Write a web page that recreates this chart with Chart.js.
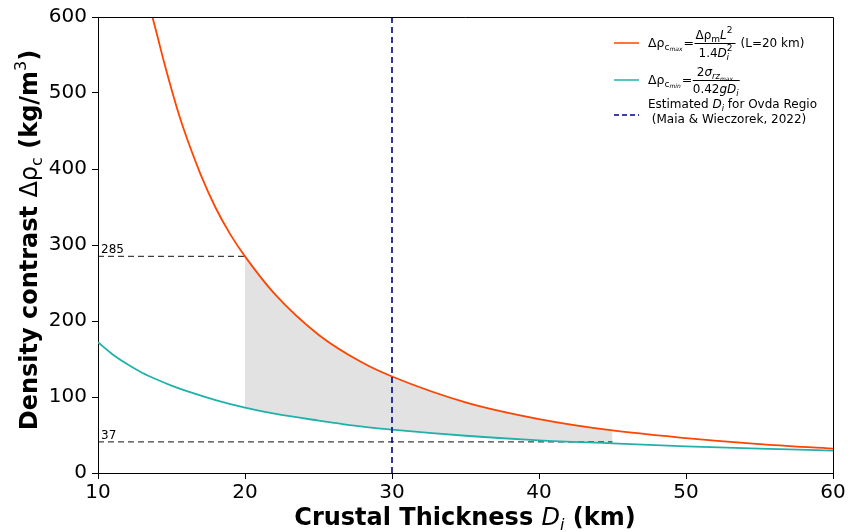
<!DOCTYPE html>
<html>
<head>
<meta charset="utf-8">
<script src="https://cdn.jsdelivr.net/npm/chart.js@4.4.0/dist/chart.umd.min.js"></script>
<style>
  html, body { margin: 0; padding: 0; background: #fff; }
  #wrap { width: 852px; height: 532px; }
</style>
</head>
<body>
<div id="wrap"><canvas id="chart" width="852" height="532"></canvas></div>
<script>
// values
var orangeD   = [13.7, 14, 14.5, 15, 15.5, 16, 17, 18, 19, 20, 22, 25, 28, 30, 35, 40, 45, 50, 55, 60];
var orangeVal = [600, 578, 540, 505, 472, 443, 392, 349, 314, 285, 236, 182, 145, 127, 93, 71, 56, 46, 38, 32];
var tealD     = [10, 11, 12, 13, 14, 15, 16, 18, 20, 22, 25, 28, 30, 35, 40, 45, 50, 55, 60];
var tealVal   = [172, 156, 143, 132, 123, 115, 108, 96, 86, 78, 69, 61, 57, 49, 43, 39, 35, 32, 29.5];
var shadeFrom = 20, shadeTo = 45;
var line285 = 285, line37 = 41;      // dashed guide levels
var ovdaD = 30;
var xTicks = [10, 20, 30, 40, 50, 60];
var yTicks = [0, 100, 200, 300, 400, 500, 600];

var FONT = "'DejaVu Sans', sans-serif";

function pts(xs, ys) {
  var out = [];
  for (var i = 0; i < xs.length; i++) out.push({x: xs[i], y: ys[i]});
  return out;
}
function inRange(xs, ys) {
  var out = [];
  for (var i = 0; i < xs.length; i++) {
    if (xs[i] >= shadeFrom && xs[i] <= shadeTo) out.push({x: xs[i], y: ys[i]});
  }
  return out;
}

// draw a row of text runs: [text, fontSize, style, dy]
function runs(ctx, list, x, y, align) {
  var w = 0;
  list.forEach(function (r) {
    ctx.font = (r[2] || '') + ' ' + r[1] + 'px ' + FONT;
    w += ctx.measureText(r[0]).width;
  });
  var cx = align === 'center' ? x - w / 2 : x;
  list.forEach(function (r) {
    ctx.font = (r[2] || '') + ' ' + r[1] + 'px ' + FONT;
    ctx.fillText(r[0], cx, y + (r[3] || 0));
    cx += ctx.measureText(r[0]).width;
  });
  return w;
}

var extras = {
  id: 'extras',
  afterDraw: function (chart) {
    var ctx = chart.ctx, a = chart.chartArea;
    ctx.save();
    // top and right spines
    ctx.strokeStyle = '#000';
    ctx.lineWidth = 1;
    ctx.beginPath();
    ctx.moveTo(a.left, a.top + 0.5);
    ctx.lineTo(a.right + 0.5, a.top + 0.5);
    ctx.lineTo(a.right + 0.5, a.bottom);
    ctx.stroke();

    ctx.fillStyle = '#000';
    ctx.textBaseline = 'alphabetic';
    ctx.textAlign = 'left';

    // guide labels
    var ys = chart.scales.y;
    runs(ctx, [['285', 12]], a.left + 3, ys.getPixelForValue(line285) - 3);
    runs(ctx, [['37', 12]], a.left + 3, ys.getPixelForValue(line37) - 3);

    // axis titles
    runs(ctx, [['Crustal Thickness ', 24, 'bold'], ['D', 24, 'italic'], ['i', 16, 'italic', 5], [' (km)', 24, 'bold']], 465, 525, 'center');
    ctx.save();
    ctx.translate(37, 240);
    ctx.rotate(-Math.PI / 2);
    runs(ctx, [['Density contrast ', 24, 'bold'], ['Δρ', 24, ''], ['c', 16, '', 5], [' (kg/m', 24, 'bold'], ['3', 16, '', -11], [')', 24, 'bold']], 0, 0, 'center');
    ctx.restore();

    // legend
    var lx = 614, tx = 648;
    ctx.lineWidth = 1.5;
    ctx.strokeStyle = '#ff4500';
    ctx.beginPath(); ctx.moveTo(lx, 43); ctx.lineTo(lx + 25, 43); ctx.stroke();
    ctx.strokeStyle = '#20b2aa';
    ctx.beginPath(); ctx.moveTo(lx, 80); ctx.lineTo(lx + 25, 80); ctx.stroke();
    ctx.strokeStyle = '#00008b';
    ctx.setLineDash([5, 3]);
    ctx.beginPath(); ctx.moveTo(lx, 115); ctx.lineTo(lx + 25, 115); ctx.stroke();
    ctx.setLineDash([]);

    // row 1
    var w = runs(ctx, [['Δρ', 12.5], ['c', 9, '', 3], ['max', 6, 'italic', 4]], tx, 47);
    var ex = tx + w + 1;
    runs(ctx, [['=', 12.5]], ex, 47);
    var fx = ex + 11;
    var num = runs(ctx, [['Δρ', 12], ['m', 9, '', 3], ['L', 12, 'italic'], ['2', 9, '', -6]], fx + 1, 39);
    var den = runs(ctx, [['1.4', 12], ['D', 12, 'italic'], ['2', 9, '', -6]], fx + 4, 57);
    ctx.font = 'italic 9px ' + FONT;
    ctx.fillText('i', fx + 4 + den - 6, 60);
    ctx.strokeStyle = '#000'; ctx.lineWidth = 1;
    var bw = Math.max(num, den) + 4;
    ctx.beginPath(); ctx.moveTo(fx, 43.5); ctx.lineTo(fx + bw, 43.5); ctx.stroke();
    runs(ctx, [['(L=20 km)', 12]], fx + bw + 5, 47);

    // row 2
    w = runs(ctx, [['Δρ', 12.5], ['c', 9, '', 3], ['min', 6, 'italic', 4]], tx, 84);
    ex = tx + w + 1;
    runs(ctx, [['=', 12.5]], ex, 84);
    fx = ex + 11;
    num = runs(ctx, [['2', 12], ['σ', 12, 'italic'], ['rz', 8.5, 'italic', 3], ['max', 6, 'italic', 5]], fx + 4, 76);
    den = runs(ctx, [['0.42', 12], ['gD', 12, 'italic'], ['i', 8.5, 'italic', 3]], fx, 93);
    bw = Math.max(num, den) + 1;
    ctx.beginPath(); ctx.moveTo(fx, 80.5); ctx.lineTo(fx + bw, 80.5); ctx.stroke();

    // row 3
    runs(ctx, [['Estimated ', 12], ['D', 12, 'italic'], ['i', 8.5, 'italic', 3], [' for Ovda Regio', 12]], tx, 108);
    runs(ctx, [[' (Maia & Wieczorek, 2022)', 12]], tx, 123);

    ctx.restore();
  }
};

var noPt = {pointRadius: 0, pointHoverRadius: 0};

new Chart(document.getElementById('chart').getContext('2d'), {
  type: 'line',
  data: {
    datasets: [
      Object.assign({
        data: inRange(orangeD, orangeVal), borderWidth: 0, borderColor: 'rgba(0,0,0,0)',
        backgroundColor: '#e2e2e2', fill: '+1', cubicInterpolationMode: 'monotone', order: 10
      }, noPt),
      Object.assign({
        data: inRange(tealD, tealVal), borderWidth: 0, borderColor: 'rgba(0,0,0,0)',
        fill: false, cubicInterpolationMode: 'monotone', order: 9
      }, noPt),
      Object.assign({
        data: pts([10, shadeFrom], [line285, line285]), borderColor: 'rgba(0,0,0,0.75)',
        borderWidth: 1.2, borderDash: [6, 4], fill: false, order: 5
      }, noPt),
      Object.assign({
        data: pts([10, shadeTo], [line37, line37]), borderColor: 'rgba(0,0,0,0.75)',
        borderWidth: 1.2, borderDash: [6, 4], fill: false, order: 5
      }, noPt),
      Object.assign({
        data: pts(tealD, tealVal), borderColor: '#20b2aa', borderWidth: 1.8,
        fill: false, cubicInterpolationMode: 'monotone', order: 3
      }, noPt),
      Object.assign({
        data: pts(orangeD, orangeVal), borderColor: '#ff4500', borderWidth: 1.8,
        fill: false, cubicInterpolationMode: 'monotone', order: 2
      }, noPt),
      Object.assign({
        data: pts([ovdaD, ovdaD], [0, 600]), borderColor: '#00008b', borderWidth: 1.6,
        borderDash: [6, 4], fill: false, order: 1
      }, noPt)
    ]
  },
  options: {
    responsive: false,
    animation: false,
    layout: {padding: {top: 17, right: 19, left: 0, bottom: 0}},
    plugins: {
      legend: {display: false},
      tooltip: {enabled: false},
      filler: {drawTime: 'beforeDatasetsDraw'}
    },
    scales: {
      x: {
        type: 'linear', min: 10, max: 60,
        afterBuildTicks: function (s) { s.ticks = xTicks.map(function (v) { return {value: v}; }); },
        afterFit: function (s) { s.height = 59; },
        ticks: {color: '#000', font: {family: FONT, size: 20}, padding: 2},
        grid: {drawOnChartArea: false, drawTicks: true, tickLength: 6, color: '#000'},
        border: {display: true, color: '#000', width: 1}
      },
      y: {
        min: 0, max: 600,
        afterBuildTicks: function (s) { s.ticks = yTicks.map(function (v) { return {value: v}; }); },
        afterFit: function (s) { s.width = 98; },
        ticks: {color: '#000', font: {family: FONT, size: 20}, padding: 5},
        grid: {drawOnChartArea: false, drawTicks: true, tickLength: 6, color: '#000'},
        border: {display: true, color: '#000', width: 1}
      }
    }
  },
  plugins: [extras]
});
</script>
</body>
</html>
